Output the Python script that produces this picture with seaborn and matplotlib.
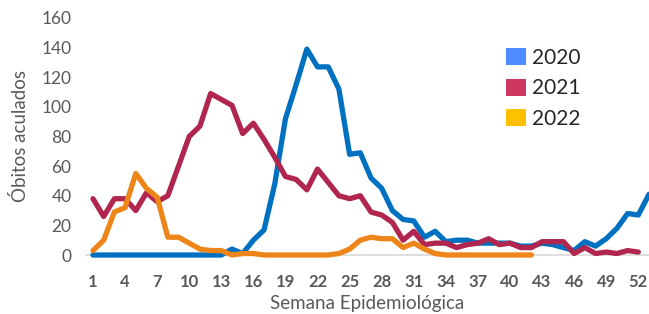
import numpy as np
import pandas as pd
import seaborn as sns
import matplotlib
matplotlib.use("Agg")
import matplotlib.pyplot as plt
from matplotlib.patches import Patch

# ---- data ----
weeks_2020 = list(range(1, 54))
obitos_2020 = [0, 0, 0, 0, 0, 0, 0, 0, 0, 0, 0, 0, 0, 4, 1, 10, 17, 48, 92, 115,
               139, 127, 127, 112, 68, 69, 52, 45, 30, 24, 23, 12, 16, 9, 10, 10, 8, 8,
               8, 8, 6, 6, 8, 7, 5, 3, 9, 6, 11, 18, 28, 27, 41]
weeks_2021 = list(range(1, 53))
obitos_2021 = [38, 26, 38, 38, 30, 42, 36, 40, 60, 80, 87, 109, 105, 101, 82, 89, 78,
               66, 53, 51, 44, 58, 49, 40, 38, 40, 29, 27, 22, 10, 16, 7, 8, 8, 5, 7,
               8, 11, 7, 8, 5, 5, 9, 9, 9, 1, 5, 1, 2, 1, 3, 2]
weeks_2022 = list(range(1, 43))
obitos_2022 = [3, 10, 29, 32, 55, 45, 39, 12, 12, 8, 4, 3, 3, 0, 1, 1, 0, 0, 0, 0, 0,
               0, 0, 1, 4, 10, 12, 11, 11, 5, 8, 4, 1, 0, 0, 0, 0, 0, 0, 0, 0, 0]
years = ["2020", "2021", "2022"]
line_colors = ["#0070C0", "#B0264F", "#ED8518"]
legend_colors = ["#4F8BFF", "#CF3760", "#FFC000"]
xticks = list(range(1, 53, 3))
yticks = list(range(0, 161, 20))

df = pd.concat([
    pd.DataFrame({"Semana": weeks_2020, "Obitos": obitos_2020, "Ano": "2020"}),
    pd.DataFrame({"Semana": weeks_2021, "Obitos": obitos_2021, "Ano": "2021"}),
    pd.DataFrame({"Semana": weeks_2022, "Obitos": obitos_2022, "Ano": "2022"}),
], ignore_index=True)

sns.set_theme(style="white")
plt.rcParams['font.family'] = ['Lato', 'DejaVu Sans']

fig = plt.figure(figsize=(6.49, 3.14), dpi=100)
ax = fig.add_axes([85.5 / 649, 1 - 255 / 314, 1 - 85.5 / 649, (255 - 18) / 314])

sns.lineplot(data=df, x="Semana", y="Obitos", hue="Ano", hue_order=years,
             palette=dict(zip(years, line_colors)), linewidth=3.8, ax=ax,
             legend=False, clip_on=False)

ax.set_xlim(0.3, 53)
ax.set_ylim(0, 160)
ax.set_xticks(xticks)
ax.set_yticks(yticks)
for s in ["top", "right", "left"]:
    ax.spines[s].set_visible(False)
ax.spines["bottom"].set_color("#D9D9D9")
ax.spines["bottom"].set_linewidth(1.2)
ax.spines["bottom"].set_zorder(0)
ax.tick_params(axis="x", length=0, pad=14, labelsize=12, labelcolor="#595959")
ax.tick_params(axis="y", length=0, pad=10, labelsize=12.5, labelcolor="#595959")
for lab in ax.get_xticklabels():
    lab.set_fontweight("bold")

ax.set_xlabel("Semana Epidemiológica", fontsize=13.5, color="#595959", labelpad=3)
ax.set_ylabel("Óbitos aculados", fontsize=13.5, color="#595959", labelpad=9)

handles = [Patch(facecolor=c, edgecolor="none") for c in legend_colors]
ax.legend(handles, years, loc="upper left", bbox_to_anchor=(506 / 649, 1 - 48 / 314),
          bbox_transform=fig.transFigure, frameon=False, fontsize=15,
          handlelength=0.95, handleheight=0.9, handletextpad=0.3, labelspacing=0.5,
          borderaxespad=0, borderpad=0)

fig.savefig("out.png", dpi=100)
